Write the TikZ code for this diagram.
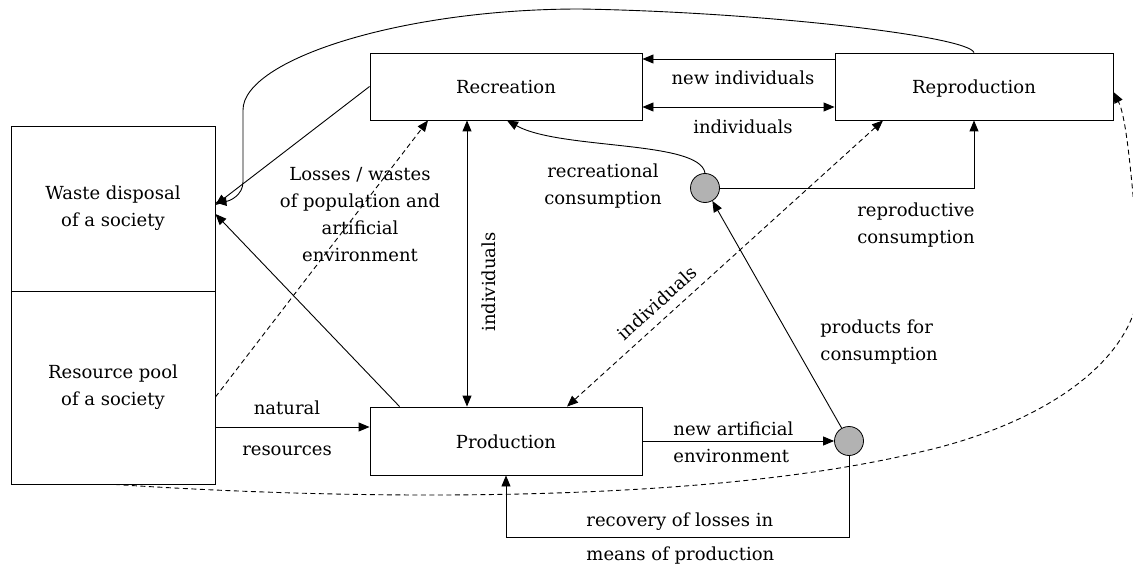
\documentclass[tikz,border=0pt]{standalone}
\usepackage{fontspec}
\setmainfont{DejaVu Serif}
\usetikzlibrary{arrows.meta,calc}
\begin{document}
\begin{tikzpicture}[x=1pt,y=-1pt,
  font=\fontsize{18}{27}\selectfont,
  line width=0.9pt,
  >={Triangle[length=11pt,width=9pt]},
  block/.style={draw,inner sep=0pt,text height=14pt,text depth=0pt},
  pool/.style={draw,inner sep=0pt,align=center,minimum width=204pt},
  hub/.style={draw,circle,fill=black!30,minimum size=29pt,inner sep=0pt,line width=0.8pt},
  flow/.style={->},
  dashline/.style={dash pattern=on 5pt off 3.5pt},
  lbl/.style={inner sep=0pt}
]
\useasboundingbox (0,0) rectangle (1133,567);

% activity blocks
\node[block,minimum width=272pt,minimum height=67pt] (rec) at (506,86.5) {Recreation};
\node[block,minimum width=278pt,minimum height=67pt] (rep) at (974,86.5) {Reproduction};
\node[block,minimum width=272pt,minimum height=68pt] (prod) at (506,441) {Production};

% environment of the society
\node[pool,minimum height=165pt] (waste) at (113,208.5) {Waste disposal\\of a society};
\node[pool,minimum height=193pt] (res) at (113,387.5) {Resource pool\\of a society};

% distribution points
\node[hub] (c1) at (705,188) {};
\node[hub] (c2) at (849,441) {};

% flows between recreation and reproduction
\draw[flow] ([yshift=27.5pt]rep.west) -- ([yshift=27.5pt]rec.east);
\draw[<->] ([yshift=-20.5pt]rec.east) -- ([yshift=-20.5pt]rep.west);

% wastes
\draw[flow] (rep.north) .. controls (968,36) and (760,12) .. (580,9)
  .. controls (400,9) and (243,60) .. (243,110) -- (243,182)
  .. controls (243,195) and (230,201) .. ([yshift=6pt]waste.east);
\draw[flow] (rec.west) -- ([yshift=3.5pt]waste.east);
\draw[flow] ([xshift=30pt]prod.north west) -- ([yshift=-5.5pt]waste.east);

% losses of population and artificial environment
\draw[flow,dashline] ([yshift=-9.5pt]res.east) -- ([xshift=-78pt]rec.south);

% natural resources
\draw[flow] ([yshift=-39.5pt]res.east) -- ([yshift=14pt]prod.west);

% individuals
\draw[<->] ([xshift=-39pt]rec.south) -- ([xshift=-39pt]prod.north);
\draw[<->,dashline] ([xshift=-91pt]rep.south) -- ([xshift=61pt]prod.north);

% consumption
\draw[flow] (c1.east) -| (rep.south);
\draw[flow] (c1.north) .. controls (700,140) and (560,150) .. ([xshift=1pt]rec.south);
\draw[flow] (c2) -- (c1);

% new artificial environment and recovery
\draw[flow] (prod.east) -- (c2.west);
\coordinate (loop) at (849,537);
\draw[flow] (c2.south) -- (loop) -| (prod.south);

% long feedback from the resource pool to reproduction
\draw[flow,dashline] ([xshift=2pt]res.south) .. controls (350,500) and (700,505) .. (920,452)
  .. controls (1040,425) and (1145,360) .. (1140,270)
  .. controls (1133,200) and (1128,120) .. ([yshift=-5.5pt]rep.east);

% labels
\node[lbl,anchor=base] (newind) at (743,85) {new individuals};
\node[lbl,anchor=base] (indtop) at (743,134) {individuals};
\node[lbl,align=center] (losses) at (360,214.5) {Losses / wastes\\of population and\\artificial\\environment};
\node[lbl,align=center] (reccons) at (603,186) {recreational\\consumption};
\node[lbl,align=center] (repcons) at (916,225.5) {reproductive\\consumption};
\node[lbl,align=left,anchor=west] (prodcons) at (820,342) {products for\\consumption};
\node[lbl,align=left,anchor=west] (newart) at (673,442) {new artificial\\environment};
\node[lbl,anchor=base] (natural) at (287,414) {natural};
\node[lbl,anchor=base] (resources) at (287,455) {resources};
\node[lbl,anchor=base west] (recov) at (586,526) {recovery of losses in};
\node[lbl,anchor=base west] (means) at (586,560) {means of production};
\node[lbl,rotate=90] (indvert) at (489,282) {individuals};
\node[lbl,rotate=42] (inddiag) at (657,303) {individuals};
\end{tikzpicture}
\end{document}
